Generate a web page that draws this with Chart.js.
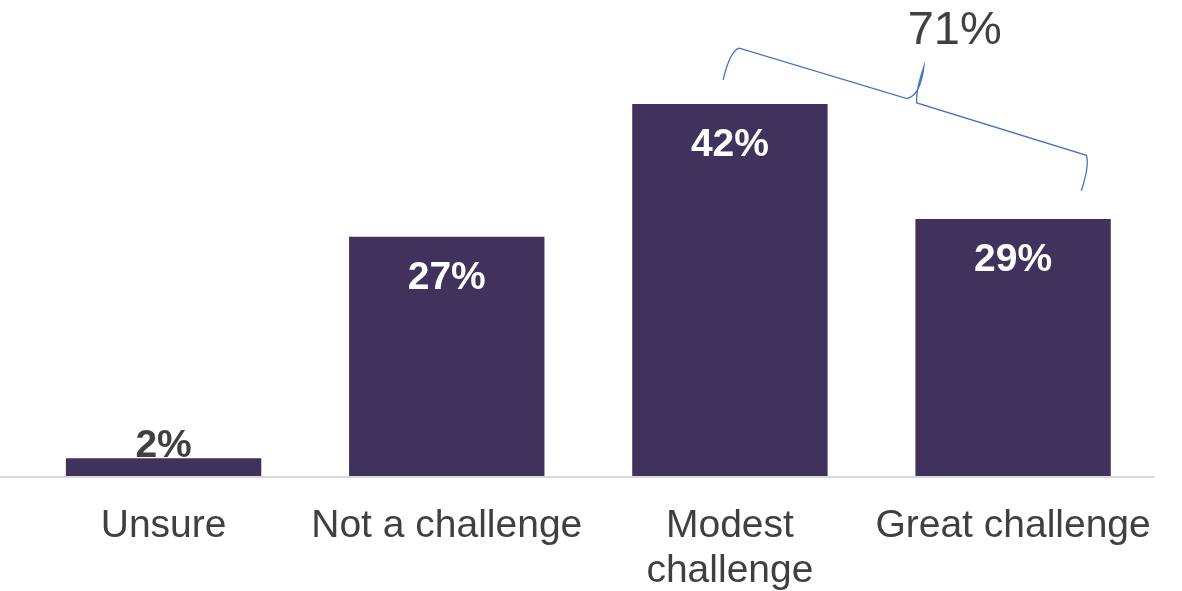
<!DOCTYPE html>
<html>
<head>
<meta charset="utf-8">
<script src="https://cdn.jsdelivr.net/npm/chart.js@4/dist/chart.umd.min.js"></script>
<style>
  body { margin: 0; background: #fff; }
  #wrap { width: 1182px; height: 591px; position: relative; }
</style>
</head>
<body>
<div id="wrap"><canvas id="challengeChart"></canvas></div>
<script>
const categories = ['Unsure', 'Not a challenge', 'Modest challenge', 'Great challenge'];
const tickLabels = ['Unsure', 'Not a challenge', ['Modest', 'challenge'], 'Great challenge'];
const shares = [2, 27, 42, 29];
const bracketFrom = 2;   // Modest challenge
const bracketTo = 3;     // Great challenge
const bracketLabel = '71%';

const barColor = '#40325c';
const textColor = '#404040';
const braceColor = '#4472c4';
const fontFamily = '"Liberation Sans", Arial, sans-serif';

// value labels: white inside the bar, dark above it when the bar is too short
const valueLabels = {
    id: 'valueLabels',
    afterDatasetsDraw(chart) {
        const ctx = chart.ctx;
        const meta = chart.getDatasetMeta(0);
        ctx.save();
        ctx.font = 'bold 39px ' + fontFamily;
        ctx.textAlign = 'center';
        ctx.textBaseline = 'middle';
        meta.data.forEach((bar, i) => {
            const v = shares[i];
            if (v < 5) {
                ctx.fillStyle = textColor;
                ctx.fillText(v + '%', bar.x, bar.y - 12);
            } else {
                ctx.fillStyle = '#ffffff';
                ctx.fillText(v + '%', bar.x, bar.y + 41);
            }
        });
        ctx.restore();
    }
};

// light baseline under the bars
const baseline = {
    id: 'baseline',
    beforeDatasetsDraw(chart) {
        const ctx = chart.ctx;
        const y = chart.scales.y.getPixelForValue(0) + 1;
        ctx.save();
        ctx.strokeStyle = '#d9d9d9';
        ctx.lineWidth = 2;
        ctx.beginPath();
        ctx.moveTo(0, y);
        ctx.lineTo(chart.chartArea.right, y);
        ctx.stroke();
        ctx.restore();
    }
};

// tilted curly brace grouping the two challenge bars, with the combined share
const bracket = {
    id: 'bracket',
    afterDraw(chart) {
        const xs = chart.scales.x, ys = chart.scales.y;
        const px = d => xs.getPixelForValue(bracketFrom + d);
        const py = v => ys.getPixelForValue(v);
        const ctx = chart.ctx;
        ctx.save();
        ctx.strokeStyle = braceColor;
        ctx.lineWidth = 1.3;
        ctx.beginPath();
        ctx.moveTo(px(-0.024), py(44.7));
        ctx.quadraticCurveTo(px(0.0), py(48.0), px(0.033), py(48.3));
        ctx.lineTo(px(0.625), py(42.6));
        ctx.quadraticCurveTo(px(0.672), py(42.9), px(0.685), py(46.2));
        ctx.quadraticCurveTo(px(0.655), py(43.4), px(0.66), py(42.1));
        ctx.lineTo(px(1.259), py(36.2));
        ctx.quadraticCurveTo(px(1.27), py(35.0), px(1.241), py(32.2));
        ctx.stroke();

        ctx.fillStyle = textColor;
        ctx.font = '47px ' + fontFamily;
        ctx.textAlign = 'center';
        ctx.textBaseline = 'middle';
        ctx.fillText(bracketLabel, px(0.794), py(50.25));
        ctx.restore();
    }
};

const ctx = document.getElementById('challengeChart').getContext('2d');
new Chart(ctx, {
    type: 'bar',
    data: {
        labels: tickLabels,
        datasets: [{
            label: 'Share',
            data: shares,
            backgroundColor: barColor,
            borderWidth: 0,
            barPercentage: 0.69,
            categoryPercentage: 1.0
        }]
    },
    options: {
        responsive: true,
        maintainAspectRatio: false,
        animation: false,
        layout: { padding: { top: 33, left: 22, right: 26, bottom: 0 } },
        plugins: {
            legend: { display: false },
            tooltip: { enabled: false }
        },
        scales: {
            x: {
                grid: { display: false, drawTicks: false },
                border: { display: false },
                ticks: {
                    color: textColor,
                    padding: 28,
                    maxRotation: 0,
                    autoSkip: false,
                    font: { family: fontFamily, size: 39, lineHeight: 1.15 }
                },
                afterFit(scale) { scale.height = 115; }
            },
            y: {
                display: false,
                min: 0,
                max: 50
            }
        }
    },
    plugins: [baseline, valueLabels, bracket]
});
</script>
</body>
</html>
